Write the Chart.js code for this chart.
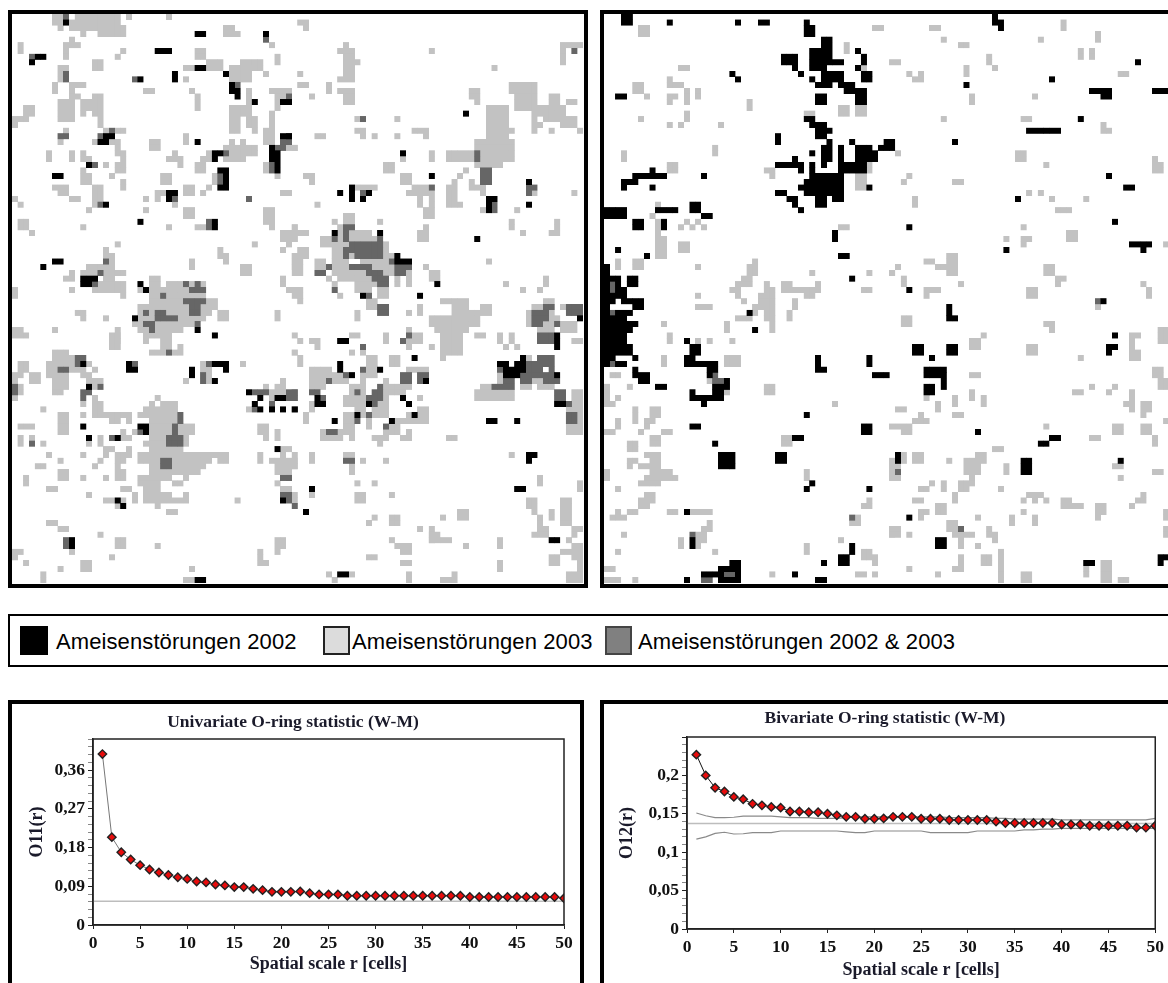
<!DOCTYPE html>
<html>
<head>
<meta charset="utf-8">
<title>Ameisenstörungen</title>
<script src="https://cdn.jsdelivr.net/npm/chart.js@4/dist/chart.umd.min.js"></script>
<style>
  html, body { margin: 0; background: #fff; }
  body { position: relative; width: 1168px; height: 983px; overflow: hidden; font-family: "Liberation Sans", Arial, sans-serif; }
  canvas { position: absolute; filter: blur(0.35px); }
  .frame { position: absolute; box-sizing: border-box; border: 4px solid #000; }
  .swatch { position: absolute; box-sizing: border-box; top: 626px; height: 29px; }
  .label { position: absolute; top: 629px; font-size: 22px; letter-spacing: 0.1px; color: #000; white-space: nowrap; }
</style>
</head>
<body>
<div class="frame" style="left:8px;top:10px;width:580px;height:578px"></div>
<div class="frame" style="left:600px;top:10px;width:600px;height:578px"></div>
<div class="frame" style="left:8px;top:614px;width:1200px;height:53px;border-width:2px"></div>
<div class="frame" style="left:8px;top:700px;width:576px;height:320px"></div>
<div class="frame" style="left:600px;top:700px;width:600px;height:320px"></div>

<div class="swatch" style="left:20px;width:28px;background:#000"></div>
<div class="label" style="left:56px">Ameisenstörungen 2002</div>
<div class="swatch" style="left:323px;width:27px;background:#dcdcdc;border:2px solid #222"></div>
<div class="label" style="left:352px">Ameisenstörungen 2003</div>
<div class="swatch" style="left:605px;width:27px;background:#808080;border:2px solid #444"></div>
<div class="label" style="left:638px">Ameisenstörungen 2002 &amp; 2003</div>

<canvas id="mapLeft" width="571" height="569" style="left:12px;top:14px;width:571px;height:569px"></canvas>
<canvas id="mapRight" width="564" height="569" style="left:604px;top:14px;width:564px;height:569px"></canvas>
<canvas id="oringLeft" width="558" height="279" style="left:22px;top:704px"></canvas>
<canvas id="oringRight" width="555" height="279" style="left:613px;top:704px"></canvas>

<script>
// occupied cells of the 100 x 100 grid, as ranges [colFrom, colTo, rowFrom, rowTo]
const leftGrey = [
[7,8,0,1],[8,8,2,2],[11,18,0,1],[10,10,1,1],[10,19,2,2],[12,12,3,3],[15,19,3,3],[20,20,0,0],[27,27,0,0],[37,38,2,3],[39,39,3,3],[45,45,5,5],[10,10,4,4],[9,11,5,5],[9,9,6,7],[1,1,5,6],[19,19,6,6],[18,18,7,7],[32,33,6,7],[46,46,7,8],[14,15,8,9],[34,36,8,9],[40,43,8,9],[38,41,9,11],[30,31,9,9],[8,9,9,9],[8,8,10,11],[44,44,10,10],[30,30,11,11],[10,12,12,12],[10,10,13,14],[7,7,12,13],[23,24,13,13],[31,31,13,13],[41,41,13,16],[45,48,13,13],[46,47,14,14],[46,46,15,16],[32,32,14,16],[10,11,14,14],[14,15,14,14],[8,10,15,18],[12,15,15,16],[12,12,17,17],[14,15,17,17],[15,15,18,19],[2,3,16,17],[0,2,18,18],[0,0,19,19],[38,41,16,17],[38,39,18,20],[41,42,18,19],[42,42,20,20],[45,45,17,19],[44,45,20,22],[9,9,20,20],[16,16,20,20],[18,19,20,20],[8,8,22,22],[14,14,22,22],[17,18,22,22],[18,18,23,24],[24,25,22,23],[30,30,21,22],[38,38,22,22],[40,40,22,22],[37,42,23,24],[37,40,25,25],[48,49,23,23],[6,6,24,25],[10,10,24,25],[12,12,24,25],[13,13,25,25],[19,19,24,27],[18,18,26,27],[28,28,24,24],[27,29,25,25],[29,29,26,26],[34,34,24,24],[33,34,25,25],[32,33,26,27],[16,16,26,26],[44,44,26,27],[46,46,28,28],[12,12,27,27],[12,13,28,29],[17,17,28,28],[35,35,28,29],[34,34,30,30],[33,33,31,31],[26,27,28,29],[19,19,29,30],[7,9,30,30],[8,9,31,31],[10,11,32,32],[14,15,30,32],[14,14,33,33],[30,31,30,31],[25,26,31,31],[25,25,32,32],[28,28,33,33],[0,0,32,32],[1,1,33,33],[23,23,32,32],[23,23,34,34],[13,13,34,34],[47,48,31,31],[30,31,34,35],[44,45,34,36],[45,45,37,37],[1,2,36,37],[3,3,38,38],[12,12,37,37],[27,27,37,37],[32,33,37,37],[49,49,37,37],[47,49,38,39],[48,48,40,40],[47,47,41,41],[18,18,40,40],[42,42,40,40],[16,16,41,41],[16,17,42,42],[17,17,43,43],[36,36,41,42],[37,37,42,43],[31,31,43,44],[49,49,42,44],[40,41,44,45],[13,17,44,44],[10,10,45,46],[9,9,46,46],[12,19,45,45],[16,17,46,46],[15,19,47,47],[14,19,48,48],[19,19,49,49],[47,47,46,47],[48,48,48,48],[0,0,48,49],[10,10,48,48],[22,22,48,48],[24,25,46,47],[24,33,48,49],[27,33,47,47],
[24,35,50,50],[22,35,51,51],[22,34,52,52],[36,37,52,53],[22,33,53,53],[21,31,54,54],[22,29,55,55],[23,24,56,56],[25,27,56,56],[23,23,57,57],[26,27,57,58],[29,29,58,58],[24,26,59,59],[28,29,59,59],[11,12,52,52],[12,12,53,53],[16,16,53,53],[46,46,52,53],[7,7,55,55],[0,1,55,55],[0,2,56,56],[18,18,55,57],[17,18,56,58],[49,49,56,56],[49,49,59,59],[7,9,59,59],[7,10,60,60],[1,2,61,62],[6,10,61,61],[13,13,61,61],[6,12,62,62],[14,14,62,62],[0,1,63,63],[0,0,64,64],[3,4,63,64],[6,9,63,63],[12,13,63,63],[7,9,64,65],[13,13,64,64],[14,15,64,64],[14,14,65,65],[1,1,65,66],[7,8,66,66],[0,0,67,67],[30,30,64,64],[33,33,61,61],[33,34,62,62],[34,34,63,64],[40,40,61,61],[44,44,65,65],[47,47,64,64],[46,47,65,65],[45,47,66,66],[45,45,67,67],[14,14,67,67],[14,15,68,70],[16,20,70,70],[17,18,71,71],[20,20,71,71],[12,12,68,68],[12,12,70,70],[5,5,69,69],[41,41,69,69],
[25,25,67,67],[24,24,68,68],[26,28,68,68],[23,28,69,69],[22,28,70,70],[24,28,71,71],[24,27,72,73],[29,31,72,73],[21,21,73,73],[24,26,74,74],[30,30,74,75],[23,26,75,75],[24,29,76,76],[22,37,77,77],[22,34,78,78],[36,37,78,78],[24,33,79,79],[24,30,80,80],[31,32,80,80],[22,27,81,81],[30,30,81,81],[22,25,82,82],[28,29,82,82],[23,25,83,83],[23,27,84,84],[30,30,84,84],[23,30,85,85],[25,25,86,86],[27,28,87,87],[21,21,84,85],
[1,3,72,72],[8,9,70,73],[1,1,74,75],[3,3,74,74],[5,5,75,75],[13,13,75,75],[15,15,74,75],[19,20,74,74],[19,19,73,73],[16,17,76,76],[16,16,77,77],[20,20,76,77],[18,19,77,78],[18,18,79,79],[18,19,80,81],[19,20,83,83],[12,12,77,77],[6,6,77,77],[8,8,78,78],[4,5,79,79],[15,15,78,78],[14,14,79,79],[8,9,80,81],[12,12,81,81],[16,16,81,81],[2,2,81,82],[6,7,83,83],[13,13,84,84],[16,17,85,85],[19,19,85,85],[18,18,86,86],[39,39,85,85],[43,44,72,73],[44,44,74,74],[46,46,73,74],[47,48,76,76],[47,47,77,78],[43,43,77,78],[45,46,78,78],[46,46,79,79],[47,49,78,79],[46,48,80,80],[46,46,82,82],[47,48,83,83],[49,49,84,85],[6,7,89,89],[8,9,90,90],[15,15,91,91],[10,10,94,94],[18,19,92,93],[25,25,93,93],[0,1,94,94],[0,0,95,95],[2,2,96,96],[17,17,95,95],[12,13,96,97],[8,8,97,97],[5,5,98,99],[31,31,97,97],[30,31,99,99],[46,47,92,93],[46,46,94,94],[43,43,94,96],[44,44,96,96],
[50,51,1,1],[51,51,2,2],[58,58,5,5],[57,59,6,6],[58,59,7,7],[58,60,8,8],[58,59,9,10],[57,59,11,11],[73,73,6,6],[96,99,5,5],[96,96,6,8],[84,84,9,9],[50,50,10,10],[50,51,12,12],[55,55,12,13],[57,59,13,13],[58,59,14,15],[52,52,14,14],[80,81,13,14],[81,81,15,15],[87,91,12,13],[88,91,14,16],[94,95,14,15],[91,96,16,17],[91,91,18,18],[93,95,18,18],[96,96,18,19],[91,92,19,19],[91,91,20,20],[94,94,20,20],[97,98,15,15],[97,98,18,19],[99,99,20,20],[83,85,16,16],[86,86,16,16],[83,86,17,21],[87,87,20,20],[81,87,22,25],[81,85,26,26],[76,80,24,25],[68,68,25,25],[73,73,24,25],[65,66,26,27],[68,69,28,29],[79,79,27,27],[78,78,28,28],[80,80,29,29],[77,77,29,30],[80,82,30,30],[82,82,31,31],[51,52,28,28],[52,52,29,29],[60,60,30,30],[61,63,30,30],[70,73,30,30],[69,73,31,31],[71,71,32,33],[73,73,32,33],[72,73,34,35],[76,76,30,33],[77,77,31,33],[78,78,33,33],[82,82,34,34],[91,91,31,31],[98,98,31,31],[53,53,33,33],[88,88,34,34],[87,87,36,37],[89,89,38,38],[95,95,36,38],[94,94,38,38],[83,83,43,43],[71,72,38,39],[72,72,37,37],[60,60,18,18],[67,67,18,18],[60,61,20,20],[61,61,21,21],[63,63,21,21],[67,67,21,21],[70,72,20,20],[72,72,21,21],[53,54,21,21],[49,49,23,23],
[58,59,35,36],[56,56,36,36],[64,64,36,36],[49,49,37,37],[57,57,37,37],[49,51,38,38],[57,57,38,39],[59,62,38,38],[49,49,39,39],[54,55,39,39],[59,63,39,39],[54,58,40,40],[65,65,40,41],[50,51,41,41],[49,51,42,42],[49,50,43,45],[56,57,41,42],[59,59,42,42],[65,66,42,42],[53,54,43,44],[56,58,43,43],[61,65,43,43],[56,58,44,44],[63,66,44,44],[72,72,44,44],[56,61,45,45],[65,66,45,45],[69,69,45,47],[73,74,45,46],[55,55,46,46],[57,62,46,46],[67,67,46,47],[56,56,47,47],[60,63,47,47],[86,86,47,47],[93,93,46,47],[49,50,48,49],[61,62,48,48],[64,65,48,49],[89,89,48,48],[92,92,48,48],[57,57,49,49],[60,60,48,48],
[50,50,50,50],[62,63,50,51],[60,60,52,53],[69,69,52,52],[71,71,51,52],[75,79,50,50],[77,79,51,53],[73,79,53,53],[73,74,54,54],[74,79,54,55],[75,78,56,59],[75,75,60,60],[80,82,52,52],[80,81,53,54],[83,83,51,52],[82,82,51,51],[91,92,51,51],[93,94,50,50],[96,96,51,51],[90,90,52,54],[94,94,52,52],[94,95,53,53],[93,94,54,54],[96,98,54,55],[92,94,55,55],[98,99,57,57],[81,82,56,56],[85,85,56,57],[86,86,58,58],[87,87,56,57],[88,88,58,58],[50,50,57,57],[52,53,57,57],[53,53,58,58],[59,60,56,56],[65,65,56,57],[69,69,55,55],[70,71,56,57],[69,69,57,58],[73,73,58,58],[61,61,59,59],[59,59,59,59],[49,49,59,59],[50,50,60,61],[62,63,60,61],[66,67,60,61],[62,63,62,63],[52,55,62,63],[56,58,63,63],[61,61,63,63],[69,72,62,62],[85,85,63,64],[90,90,60,60],[91,92,64,64],[82,84,65,65],[89,90,65,65],[92,94,65,65],[81,87,66,67],[52,54,64,65],[56,58,64,64],[61,61,64,64],[65,65,64,64],[59,61,65,66],[65,69,65,65],[65,68,66,66],[58,61,67,68],[65,65,67,67],[71,71,67,67],[52,52,68,68],[64,65,68,68],[52,52,69,69],[60,61,69,69],[63,65,69,70],[71,72,69,69],[51,51,70,71],[58,59,70,72],[61,61,70,70],[69,69,70,70],[71,72,70,70],[62,62,71,72],[67,72,71,71],[66,67,72,72],[54,54,73,73],[57,59,73,73],[65,67,73,73],[69,69,73,73],[54,57,74,74],[59,59,74,74],[63,65,74,74],[68,69,74,74],[76,77,74,74],[64,64,75,75],[98,99,66,67],[97,99,68,73],
[49,49,77,79],[52,52,77,78],[58,59,77,77],[87,87,77,77],[61,61,78,78],[65,65,78,78],[59,59,79,80],[60,60,82,82],[63,63,82,82],[92,92,81,82],[99,99,82,83],[52,52,84,84],[60,61,84,85],[66,66,84,84],[90,91,85,86],[91,91,87,87],[92,92,88,90],[92,93,90,90],[91,93,91,91],[96,97,85,86],[94,94,87,88],[96,97,87,89],[98,99,90,90],[98,98,91,91],[78,79,87,88],[75,75,88,88],[63,63,88,88],[62,62,89,89],[66,67,88,89],[71,71,90,90],[73,73,90,92],[73,74,91,91],[73,76,92,92],[66,66,92,92],[67,69,93,93],[68,69,94,94],[97,97,92,92],[85,85,92,93],[79,79,93,93],[98,99,93,93],[96,99,94,94],[98,99,95,95],[99,99,96,98],[94,95,95,96],[62,63,95,95],[68,69,96,96],[85,85,96,97],[55,55,98,98],[59,59,98,98],[56,56,99,99],[69,69,98,99],[77,77,98,98],[75,77,99,99],[97,99,98,99]
];
const leftDark = [
[9,9,0,0],[44,44,4,4],[3,3,7,7],[9,9,10,11],[21,21,11,11],[39,39,12,12],[48,48,14,14],[17,17,20,20],[8,9,21,21],[15,15,21,21],[47,48,22,22],[46,47,23,23],[37,37,24,24],[14,14,26,26],[45,45,26,27],[36,36,28,29],[15,15,33,33],[28,28,32,32],[41,41,32,32],[34,34,36,37],[16,16,43,43],[15,15,45,45],[14,14,47,47],[26,26,49,49],[30,30,47,47],[32,32,47,47],[31,33,48,48],[30,33,50,50],[31,32,51,52],[23,23,52,52],[25,26,52,52],[25,28,53,53],[23,24,54,54],[32,32,54,54],[24,24,55,55],[27,27,59,59],[11,12,60,60],[11,11,61,61],[8,9,62,62],[21,21,61,61],[34,34,61,61],[33,33,63,64],[15,15,65,65],[0,0,65,66],[12,13,66,66],[12,12,67,67],[42,44,66,66],[48,49,66,67],[45,45,68,68],[42,42,69,69],[29,29,70,71],[22,22,73,73],[28,28,72,73],[27,29,74,75],[3,3,75,75],[17,17,74,74],[26,27,78,79],[47,48,81,81],[47,48,84,84],[48,48,85,85],[49,49,86,86],[9,9,92,93],
[98,98,6,6],[61,61,18,18],[81,81,24,25],[82,83,27,29],[73,73,30,30],[61,61,31,31],[84,84,33,34],[90,90,30,31],[91,91,30,30],[58,59,37,37],[56,56,39,39],[58,58,38,39],[64,64,39,39],[59,64,40,40],[58,64,41,41],[58,58,42,42],[60,64,42,42],[66,66,43,43],[59,62,44,44],[55,55,44,44],[67,69,44,44],[53,54,45,45],[62,64,45,45],[67,68,45,45],[63,65,46,46],[64,65,47,47],[56,56,48,48],[62,62,49,49],[64,65,51,52],[93,94,51,51],[91,93,52,53],[91,92,54,54],[95,95,54,54],[92,94,56,57],[97,99,51,52],[69,69,56,56],[68,68,57,57],[61,61,58,58],[61,61,62,62],[92,94,60,61],[90,93,61,61],[85,85,62,62],[90,92,62,62],[94,94,62,62],[89,94,63,63],[58,58,63,63],[68,69,63,64],[71,72,63,64],[55,55,64,64],[86,87,64,64],[89,90,64,64],[93,95,64,64],[84,87,65,65],[64,64,65,65],[49,49,66,67],[52,53,66,66],[60,60,66,66],[63,64,66,66],[54,54,67,67],[62,64,67,67],[63,63,68,68],[95,96,66,67],[97,97,68,68],[97,98,70,71],[62,62,70,70],[60,60,71,71],[65,65,72,72],[55,56,73,73],[58,59,78,78],[48,48,81,81]
];
const leftBlack = [
[9,9,1,1],[32,33,3,3],[44,44,3,3],[4,5,7,7],[3,3,8,8],[25,27,6,6],[32,33,9,9],[37,37,10,10],[28,28,10,11],[22,22,11,11],[38,38,12,13],[39,39,13,14],[42,42,15,15],[47,48,15,15],[47,48,21,21],[45,45,23,23],[45,46,24,25],[46,46,26,27],[16,17,21,21],[15,16,22,22],[32,32,22,22],[35,36,24,24],[35,35,25,25],[13,13,26,26],[7,8,28,28],[36,37,27,27],[37,37,28,30],[36,36,30,30],[27,28,31,31],[27,27,32,32],[16,16,33,33],[22,22,36,36],[35,35,36,37],[7,8,43,43],[5,5,44,44],[12,14,46,46],[12,13,47,47],[22,22,47,47],[23,23,48,48],[21,21,53,53],[32,32,55,55],[35,35,56,56],[12,12,61,61],[20,20,61,62],[21,21,62,62],[31,31,62,63],[35,37,61,61],[37,37,62,62],[35,35,64,64],[13,13,65,65],[41,41,66,66],[43,43,67,67],[46,47,67,67],[42,42,68,68],[43,43,69,69],[45,45,69,69],[47,47,69,69],[49,49,69,69],[12,12,72,72],[22,23,72,72],[23,23,73,73],[13,13,74,74],[18,18,74,74],[46,46,76,76],[47,47,85,85],[18,18,85,85],[19,19,86,86],[10,10,92,93],[32,33,99,99],
[79,79,17,17],[48,48,21,21],[68,68,24,24],[73,73,28,28],[57,57,31,31],[59,59,30,32],[62,62,31,31],[61,61,32,32],[83,84,32,32],[83,83,33,34],[90,90,29,29],[90,90,33,33],[81,81,39,39],[56,56,38,38],[64,64,38,38],[67,67,42,42],[67,69,43,43],[74,74,47,47],[61,61,49,49],[71,71,49,49],[99,99,53,53],[95,95,56,58],[57,58,57,57],[70,70,60,60],[57,57,61,62],[64,64,62,62],[85,86,61,61],[89,89,60,60],[88,89,61,62],[86,89,62,62],[86,88,63,63],[95,95,63,63],[59,59,63,63],[72,72,64,64],[53,53,67,67],[68,68,67,67],[53,54,68,68],[62,62,68,68],[69,69,68,68],[95,96,68,68],[49,49,69,69],[60,60,70,70],[70,70,70,70],[56,56,71,71],[66,66,71,71],[83,84,71,71],[88,88,71,71],[90,91,77,77],[90,90,78,78],[52,52,83,83],[88,89,83,83],[51,51,87,87],[94,95,92,92],[57,58,98,98]
];
const rightGrey = [
[6,7,2,3],[47,48,2,2],[42,42,5,6],[45,45,9,9],[13,14,9,9],[11,11,11,11],[11,13,12,12],[5,6,12,13],[14,14,13,15],[16,16,13,14],[7,7,14,14],[11,12,14,14],[11,11,15,15],[25,25,15,16],[41,42,16,17],[44,45,16,17],[14,14,17,18],[6,6,18,18],[35,36,17,17],[11,11,19,19],[13,13,19,19],[20,20,19,19],[19,19,23,24],[3,3,24,25],[11,12,26,27],[28,29,27,27],[29,29,28,28],[46,46,26,27],[44,45,28,30],[9,9,33,34],[8,8,35,35],[9,9,36,39],[14,14,36,36],[16,16,36,36],[13,13,37,37],[15,15,37,37],[17,17,37,37],[41,42,37,37],[9,10,39,42],[13,14,40,41],[2,2,43,44],[5,6,43,44],[16,16,44,44],[26,26,43,45],[25,25,44,45],[24,25,46,47],[46,46,45,45],[36,36,45,45],[50,50,45,45],
[23,23,47,49],[22,22,48,48],[28,28,47,47],[28,29,48,48],[27,29,49,50],[26,29,51,51],[26,26,52,52],[28,29,52,53],[23,25,53,53],[29,29,54,55],[31,32,47,48],[33,37,48,48],[37,37,47,47],[35,36,49,49],[45,46,48,48],[16,16,49,49],[24,24,50,50],[33,33,50,51],[16,18,51,51],[32,32,52,53],[10,10,54,54],[21,21,54,55],[11,11,56,57],[16,16,57,57],[18,18,57,57],[22,22,57,57],[10,10,60,61],[21,23,60,61],[1,2,63,63],[18,18,64,64],[0,0,65,67],[4,4,65,65],[28,29,65,66],[21,21,66,66],[2,2,67,67],[0,1,68,68],[40,40,68,68],[5,5,69,71],[8,9,69,70],[2,2,71,72],[7,8,71,71],[7,7,72,72],[0,1,73,73],[6,6,73,73],[10,11,73,73],[8,9,74,75],[31,32,74,75],[4,5,75,76],[7,9,77,77],[4,5,78,78],[8,9,78,78],[50,50,78,81],[4,4,79,79],[6,9,79,79],[0,0,80,81],[8,11,80,80],[35,35,80,81],[7,12,81,81],[6,9,82,82],[2,2,83,83],[7,8,84,84],[6,8,85,85],[46,46,85,85],[6,7,86,86],[45,46,86,86],[2,2,87,87],[4,5,87,87],[11,12,87,87],[15,18,87,87],[1,3,88,88],[44,44,88,88],[18,18,89,89],[43,44,89,89],[17,18,90,90],[50,50,90,91],[3,3,91,91],[16,17,91,92],[13,13,92,93],[41,41,92,92],[16,16,93,93],[35,35,93,94],[2,2,94,94],[19,19,94,94],[45,46,94,95],[47,47,95,96],[0,1,97,97],[29,29,98,98],[44,45,98,98],[47,47,98,98],[0,2,99,99],[5,5,99,99],
[57,58,2,2],[80,80,1,2],[86,86,3,4],[59,59,4,4],[62,63,5,5],[76,76,4,4],[83,83,6,7],[85,85,6,7],[50,51,8,8],[67,67,7,8],[68,68,9,9],[63,63,9,10],[53,53,10,10],[55,55,10,10],[54,55,11,11],[90,91,10,10],[64,64,14,15],[75,75,14,14],[59,59,18,18],[73,74,18,18],[87,87,19,20],[88,88,20,20],[51,51,24,24],[72,73,24,25],[77,77,26,26],[96,96,25,25],[96,97,26,27],[53,53,28,28],[52,52,29,29],[61,62,29,29],[54,54,32,33],[74,74,31,31],[76,76,31,31],[78,78,32,32],[84,84,32,32],[79,81,34,34],[73,73,37,37],[70,70,39,39],[73,74,39,39],[73,73,40,40],[81,82,38,39],[98,98,40,40],[60,61,42,45],[56,57,43,43],[58,59,44,44],[51,51,44,44],[50,50,45,45],[52,52,46,47],[62,62,47,47],[56,58,48,48],[56,56,49,49],[77,78,44,45],[79,80,46,46],[79,79,47,47],[74,75,48,49],[94,94,47,47],[95,95,48,49],
[86,86,51,51],[52,53,53,54],[77,78,54,54],[78,78,55,55],[92,93,56,56],[92,92,57,58],[92,93,59,60],[97,98,55,57],[66,66,56,56],[64,65,57,58],[74,75,58,59],[83,83,60,60],[64,65,63,63],[96,97,62,63],[97,98,64,65],[56,56,67,67],[85,85,65,65],[89,89,65,65],[88,88,66,66],[82,83,66,66],[64,64,66,67],[61,61,67,68],[66,66,67,68],[58,58,68,69],[92,92,66,69],[91,91,68,68],[94,95,68,69],[94,94,70,70],[51,52,69,69],[61,62,70,70],[55,55,70,70],[54,56,71,71],[50,53,72,72],[52,53,73,73],[98,98,71,71],[77,77,72,72],[89,90,72,73],[94,95,72,73],[85,86,74,74],[96,96,74,75],[68,69,76,76],[52,52,77,78],[54,55,77,78],[66,66,77,78],[60,60,78,78],[51,51,79,79],[51,51,81,81],[63,65,78,80],[65,65,77,77],[64,64,81,81],[62,64,82,82],[62,63,83,83],[61,61,84,85],[89,90,79,79],[90,90,81,81],[96,97,80,80],[70,70,79,80],[57,57,82,82],[55,56,83,83],[59,59,82,83],[69,69,83,83],[54,55,85,85],[74,76,84,84],[73,73,85,85],[75,75,85,85],[77,77,85,85],[80,81,85,85],[80,83,86,86],[94,94,84,84],[93,94,85,85],[92,92,86,86],[58,59,86,87],[55,56,87,87],[55,55,88,88],[65,65,88,88],[73,73,87,87],[71,71,88,89],[75,75,88,89],[86,87,86,87],[86,86,88,88],[98,98,87,88],[60,61,89,90],[61,63,91,91],[62,62,92,93],[50,51,90,91],[53,53,91,91],[64,64,91,91],[67,67,90,90],[67,68,91,91],[68,68,92,92],[65,65,93,93],[98,98,90,91],[53,53,97,97],[58,58,98,98],[62,62,95,97],[61,61,97,97],[66,67,95,96],[69,69,94,99],[73,74,98,99],[84,84,97,98],[87,88,96,99],[90,91,99,99]
];
const rightDark = [
[1,1,47,48],[1,1,52,52],[1,1,61,61],[19,19,63,64],[20,20,64,64],[43,43,88,88],[15,15,91,91],[21,22,98,98],[17,18,99,99],[86,86,50,50],[62,62,90,90],[51,51,80,80]
];
const rightBlack = [
[3,4,0,1],[11,11,1,1],[23,23,1,1],[27,28,1,1],[35,35,1,1],[35,36,2,3],[38,39,4,5],[36,39,6,7],[36,41,8,8],[36,38,9,9],[44,44,6,6],[45,45,7,8],[44,44,9,9],[45,46,10,11],[31,33,7,8],[33,33,9,9],[34,34,10,10],[36,36,11,11],[38,41,10,11],[37,39,12,12],[41,43,12,12],[42,45,13,13],[44,45,14,15],[22,22,10,10],[23,23,11,11],[2,3,14,14],[37,38,14,15],[35,36,18,18],[36,38,19,19],[37,39,20,20],[37,38,21,21],[30,30,21,22],[39,39,22,22],[38,39,23,25],[38,38,26,26],[41,41,23,25],[41,42,26,26],[43,43,22,22],[44,46,23,23],[44,47,24,25],[36,36,24,24],[48,50,23,23],[49,50,22,22],[30,33,26,26],[33,33,25,25],[34,34,26,27],[36,36,26,28],[43,45,26,26],[41,45,27,27],[8,8,27,27],[5,10,28,28],[3,5,29,29],[3,3,30,30],[8,8,30,30],[17,17,28,28],[37,41,28,28],[35,41,29,29],[34,41,30,30],[35,41,31,31],[37,38,32,33],[40,41,32,32],[46,46,30,30],[30,31,31,31],[32,33,32,32],[33,33,33,33],[34,34,34,34],[15,16,33,34],[9,12,34,34],[0,3,34,35],[17,18,35,35],[5,6,36,37],[10,10,36,37],[40,40,38,39],[2,2,41,41],[7,7,42,42],[41,42,42,42],[43,43,46,46],[0,0,44,45],[0,2,46,46],[0,0,47,48],[2,2,47,48],[3,3,48,48],[4,5,46,47],
[0,3,49,49],[0,1,50,50],[3,6,50,50],[0,0,51,51],[5,6,51,51],[0,0,52,52],[2,4,52,52],[25,25,52,52],[0,3,53,53],[0,5,54,54],[0,4,55,55],[26,26,55,55],[0,3,56,57],[14,14,57,57],[0,4,58,59],[15,16,58,59],[0,1,60,60],[5,5,60,60],[14,15,60,60],[37,37,60,61],[46,46,60,61],[0,0,61,61],[2,3,61,61],[14,19,61,61],[5,5,62,62],[18,19,62,62],[37,38,62,62],[5,7,63,63],[18,18,63,63],[47,49,63,63],[6,7,64,64],[21,21,64,64],[9,10,65,65],[19,21,65,65],[15,15,66,66],[19,20,66,66],[15,20,67,67],[17,17,68,68],[35,35,70,70],[15,16,72,72],[45,46,72,73],[33,34,74,74],[19,19,75,75],[20,22,77,79],[30,31,77,78],[36,36,82,82],[35,35,83,83],[46,46,83,83],[14,14,87,87],[15,15,92,93],[43,43,93,94],[41,42,95,96],[22,23,96,96],[38,38,96,96],[20,23,97,97],[17,20,98,98],[23,23,98,98],[33,33,98,98],[14,14,99,99],[20,23,99,99],[37,38,99,99],
[68,68,0,1],[69,69,1,2],[93,93,8,8],[78,78,11,11],[63,63,12,12],[85,88,13,13],[87,88,14,14],[96,98,13,13],[83,83,18,18],[74,79,20,20],[61,61,22,22],[91,92,30,30],[72,72,32,32],[88,88,28,28],[89,89,36,36],[53,53,37,37],[92,95,40,40],[94,94,41,41],[70,70,41,41],[53,53,48,48],[87,87,50,50],[60,60,51,52],[60,61,53,53],[89,89,56,56],[54,55,58,59],[60,61,58,59],[88,89,58,58],[88,88,59,59],[57,57,60,60],[56,59,62,63],[59,59,64,65],[56,57,65,66],[65,65,73,73],[78,79,74,74],[76,77,75,75],[51,51,77,78],[73,74,78,80],[90,90,78,78],[53,53,88,88],[58,59,92,93],[84,85,96,96],[97,98,95,95],[97,97,96,96]
];

// O-ring curves
const scaleR = [1,2,3,4,5,6,7,8,9,10,11,12,13,14,15,16,17,18,19,20,21,22,23,24,25,26,27,28,29,30,31,32,33,34,35,36,37,38,39,40,41,42,43,44,45,46,47,48,49,50];
const o11 = [.397,.204,.169,.152,.139,.129,.122,.116,.111,.107,.101,.099,.094,.092,.088,.088,.084,.081,.077,.077,.077,.078,.074,.071,.071,.071,.068,.068,.068,.068,.068,.068,.068,.068,.068,.068,.068,.068,.068,.065,.065,.065,.065,.065,.065,.065,.065,.065,.065,.062];
const o12 = [.227,.200,.184,.179,.172,.169,.163,.161,.159,.158,.153,.153,.152,.152,.150,.148,.146,.146,.1435,.1435,.144,.146,.146,.146,.1435,.1435,.1435,.142,.142,.142,.142,.142,.140,.138,.138,.138,.138,.138,.138,.136,.136,.136,.1345,.1345,.1345,.1345,.1345,.132,.132,.1345];
const o12Upper = [.151,.1475,.145,.145,.1455,.147,.147,.147,.147,.146,.145,.145,.145,.144,.144,.144,.145,.146,.146,.146,.146,.146,.146,.146,.146,.146,.146,.145,.145,.145,.145,.145,.144,.144,.143,.143,.143,.143,.143,.142,.142,.142,.142,.142,.142,.142,.142,.142,.142,.144];
const o12Lower = [.117,.120,.1245,.126,.1237,.124,.1255,.1255,.1255,.1276,.1276,.1276,.1276,.1276,.1276,.1276,.1265,.1255,.1255,.1276,.1276,.1276,.1276,.1276,.1276,.1255,.1255,.1255,.1255,.1255,.1276,.1276,.1276,.1276,.1276,.129,.129,.130,.130,.131,.131,.131,.131,.131,.131,.131,.131,.131,.131,.131];
// the flat reference lines run across the whole plot
const refX = [0,50];
const o11Ref = [.055,.055];
const o12Ref = [.1375,.1375];
const xTicks = [0,5,10,15,20,25,30,35,40,45,50];
const o11Labels = ['0','0,09','0,18','0,27','0,36'];
const o12Labels = ['0','0,05','0,1','0,15','0,2'];

function cellsOf(ranges){
    const cells = [];
    ranges.forEach(([c1,c2,r1,r2]) => {
        for(let c=c1;c<=c2;c++)
            for(let r=r1;r<=r2;r++)
                cells.push({x:c+0.5,y:r+0.5});
    });
    return cells;
}

function cellDataset(ranges,color,order){
    return {
        data: cellsOf(ranges),
        order: order,
        backgroundColor: color,
        pointBackgroundColor: color,
        pointBorderWidth: 0,
        pointHoverBorderWidth: 0,
        pointStyle: 'rect',
        // a 'rect' point is radius*sqrt(2) wide, just over one 5.71px cell
        pointRadius: 4.24
    };
}

function drawMap(id,grey,dark,black,xMax){
    new Chart(document.getElementById(id),{
        type:'scatter',
        data:{datasets:[
            cellDataset(black,'#000',1),
            cellDataset(dark,'#666',2),
            cellDataset(grey,'#c2c2c2',3)
        ]},
        options:{
            responsive:false,
            animation:false,
            // drawn at 4x and scaled down, at 1x the antialiased cell edges leave pale seams
            devicePixelRatio:4,
            // keep the grid on the whole canvas, no room reserved for point overflow
            layout:{padding:0,autoPadding:false},
            plugins:{legend:{display:false},tooltip:{enabled:false}},
            scales:{
                x:{type:'linear',min:0,max:xMax,display:false},
                y:{type:'linear',min:0,max:100,reverse:true,display:false}
            }
        }
    });
}

drawMap('mapLeft',leftGrey,leftDark,leftBlack,100);
drawMap('mapRight',rightGrey,rightDark,rightBlack,98.8);

const plotBox = {
    id:'plotBox',
    afterDraw(chart){
        const a = chart.chartArea, c = chart.ctx;
        c.save();
        c.strokeStyle = '#222';
        c.lineWidth = 1.5;
        c.strokeRect(a.left,a.top,a.width,a.height);
        c.restore();
    }
};

const serif = size => ({family:'"Liberation Serif", serif',size:size,weight:'bold'});

function xy(xs,ys){
    return xs.map((x,i)=>({x:x,y:ys[i]}));
}

function curve(xs,ys,color,width,order){
    return {data:xy(xs,ys),borderColor:color,borderWidth:width,pointRadius:0,order:order,tension:0};
}

function drawOring(id,opts){
    new Chart(document.getElementById(id),{
        type:'line',
        data:{
            datasets:[{
                data:xy(scaleR,opts.values),
                order:1,
                borderColor:opts.lineColor,
                borderWidth:1,
                tension:0,
                pointStyle:'rectRot',
                pointRadius:4.2,
                pointBackgroundColor:'#e80c0c',
                pointBorderColor:'#222',
                pointBorderWidth:1.4
            }].concat(opts.extra)
        },
        options:{
            responsive:false,
            animation:false,
            layout:{padding:{right:opts.right,top:0,bottom:opts.below}},
            plugins:{
                legend:{display:false},
                tooltip:{enabled:false},
                title:{display:true,text:opts.title,color:'#1a1a2a',font:serif(17.5),padding:{top:opts.titleTop,bottom:opts.titleGap}}
            },
            scales:{
                x:{
                    type:'linear',min:0,max:50,
                    afterBuildTicks:s=>{s.ticks=xTicks.map(v=>({value:v}));},
                    afterFit:s=>{s.height=opts.bottom;},
                    border:{color:'#222',width:1.5},
                    grid:{drawOnChartArea:false,tickLength:4,color:'#222'},
                    ticks:{color:'#111',font:serif(17.5),maxRotation:0,padding:4,autoSkip:false},
                    title:{display:true,text:'Spatial scale r [cells]',color:'#1a1a2a',font:serif(18),padding:{top:0,bottom:0}}
                },
                y:{
                    min:0,max:opts.yMax,
                    afterFit:s=>{s.width=opts.left;},
                    border:{color:'#222',width:1.5},
                    grid:{drawOnChartArea:false,tickLength:5,color:ctx=>ctx.index%5===0?'#222':'#888'},
                    ticks:{
                        stepSize:opts.yStep,
                        autoSkip:false,
                        color:'#111',
                        font:serif(17.5),
                        padding:3,
                        callback:(v,i)=>i%5===0&&opts.labels[i/5]!==undefined?opts.labels[i/5]:''
                    },
                    title:{display:true,text:opts.yTitle,color:'#1a1a2a',font:serif(18),padding:{top:opts.yTitlePad,bottom:0}}
                }
            }
        },
        plugins:[plotBox]
    });
}

drawOring('oringLeft',{
    title:'Univariate O-ring statistic (W-M)',titleTop:7.5,titleGap:6.5,
    yTitle:'O11(r)',yTitlePad:5,values:o11,lineColor:'#777',labels:o11Labels,
    yMax:.432,yStep:.018,left:71,right:16,bottom:50,below:8,
    extra:[curve(refX,o11Ref,'#bdbdbd',1.5,3)]
});
drawOring('oringRight',{
    title:'Bivariate O-ring statistic (W-M)',titleTop:3.5,titleGap:8.5,
    yTitle:'O12(r)',yTitlePad:4,values:o12,lineColor:'#111',labels:o12Labels,
    yMax:.25,yStep:.01,left:74,right:11,bottom:52,below:2,
    extra:[curve(refX,o12Ref,'#bdbdbd',1.5,3),curve(scaleR,o12Upper,'#8a8a8a',1.2,2),curve(scaleR,o12Lower,'#8a8a8a',1.2,2)]
});
</script>
</body>
</html>
